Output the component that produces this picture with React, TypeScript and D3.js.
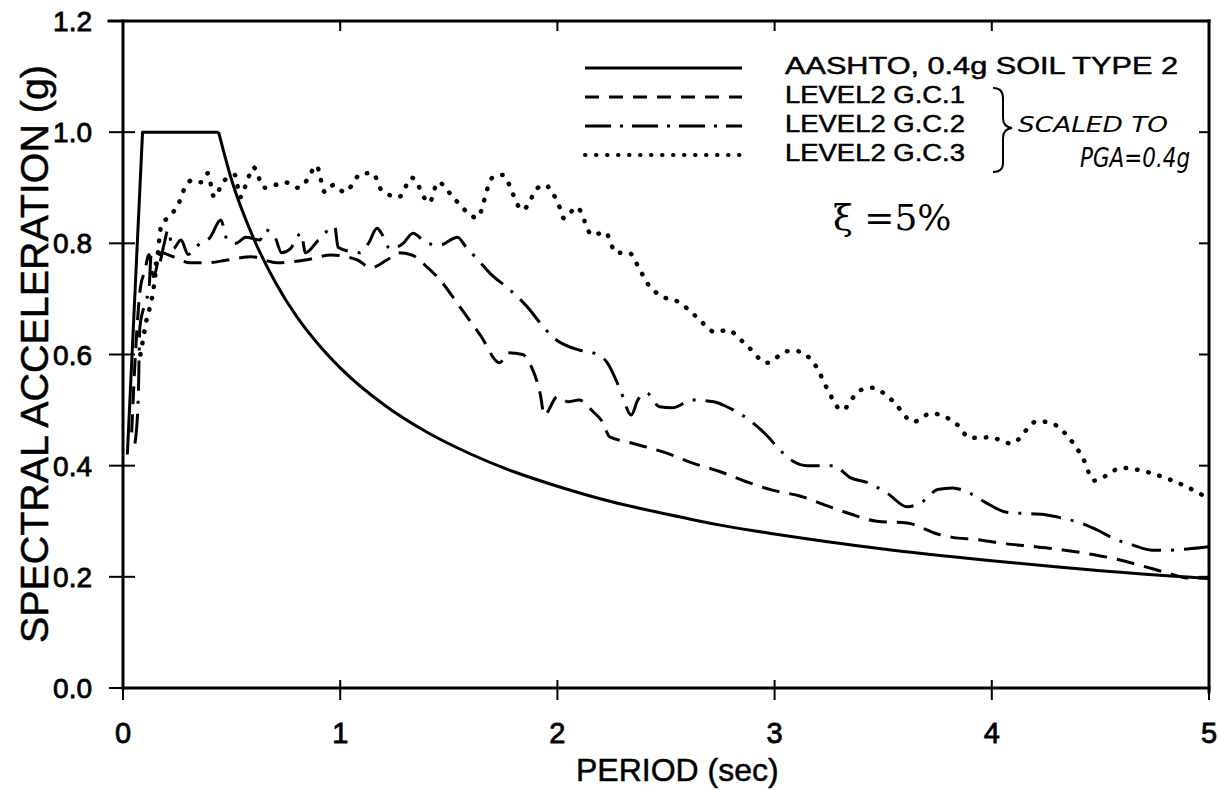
import React from "react";
import * as d3 from "d3";

// Response spectra: period (sec) vs spectral acceleration (g)
const aashtoRiseT = [0.02, 0.09, 0.44];
const aashtoRiseSa = [0.42, 1.0, 1.0];
const aashtoDecayT = [0.44, 0.5, 0.6, 0.7, 0.8, 0.9, 1.0, 1.2, 1.4, 1.6, 1.8, 2.0, 2.25, 2.5, 2.75, 3.0, 3.5, 4.0, 4.5, 5.0];
const aashtoDecaySa = [1.0, 0.914, 0.81, 0.731, 0.668, 0.618, 0.576, 0.51, 0.46, 0.421, 0.389, 0.363, 0.335, 0.313, 0.293, 0.277, 0.25, 0.229, 0.211, 0.197];

const gc1T = [0.04, 0.06, 0.08, 0.1, 0.12, 0.14, 0.175, 0.23, 0.31, 0.39, 0.48, 0.59, 0.71, 0.84, 0.96, 1.08, 1.14, 1.215, 1.27, 1.33, 1.39, 1.46, 1.55, 1.645, 1.735, 1.77, 1.84, 1.88, 1.92, 1.94, 2.0, 2.05, 2.1, 2.165, 2.21, 2.24, 2.32, 2.5, 2.62, 2.75, 2.87, 2.99, 3.12, 3.24, 3.35, 3.47, 3.61, 3.75, 3.82, 3.93, 4.05, 4.18, 4.3, 4.42, 4.56, 4.68, 4.81, 4.9, 5.0];
const gc1Sa = [0.46, 0.62, 0.72, 0.75, 0.78, 0.74, 0.783, 0.776, 0.765, 0.765, 0.77, 0.776, 0.765, 0.77, 0.779, 0.77, 0.756, 0.77, 0.783, 0.779, 0.761, 0.734, 0.686, 0.635, 0.585, 0.603, 0.6, 0.578, 0.531, 0.491, 0.524, 0.515, 0.518, 0.497, 0.477, 0.452, 0.443, 0.423, 0.405, 0.389, 0.371, 0.356, 0.345, 0.328, 0.313, 0.3, 0.297, 0.277, 0.271, 0.267, 0.26, 0.255, 0.25, 0.243, 0.233, 0.221, 0.207, 0.198, 0.198];

const gc2T = [0.055, 0.07, 0.078, 0.1, 0.12, 0.13, 0.16, 0.19, 0.207, 0.23, 0.267, 0.3, 0.355, 0.4, 0.45, 0.48, 0.52, 0.565, 0.63, 0.655, 0.7, 0.73, 0.77, 0.82, 0.84, 0.9, 0.975, 0.99, 1.05, 1.09, 1.13, 1.17, 1.19, 1.23, 1.29, 1.335, 1.4, 1.46, 1.54, 1.58, 1.635, 1.69, 1.77, 1.865, 1.92, 1.98, 2.1, 2.165, 2.23, 2.29, 2.34, 2.37, 2.41, 2.47, 2.53, 2.62, 2.72, 2.78, 2.9, 2.97, 3.02, 3.085, 3.15, 3.27, 3.35, 3.425, 3.52, 3.61, 3.68, 3.75, 3.82, 3.9, 3.97, 4.07, 4.15, 4.24, 4.33, 4.4, 4.47, 4.58, 4.65, 4.74, 4.82, 4.9, 5.0];
const gc2Sa = [0.44, 0.52, 0.65, 0.69, 0.72, 0.78, 0.757, 0.8, 0.824, 0.79, 0.806, 0.78, 0.8, 0.81, 0.842, 0.806, 0.8, 0.811, 0.806, 0.824, 0.811, 0.783, 0.79, 0.818, 0.783, 0.806, 0.83, 0.793, 0.785, 0.783, 0.8, 0.827, 0.818, 0.79, 0.8, 0.818, 0.8, 0.797, 0.811, 0.793, 0.77, 0.746, 0.72, 0.684, 0.657, 0.631, 0.608, 0.603, 0.585, 0.536, 0.491, 0.518, 0.531, 0.506, 0.504, 0.518, 0.515, 0.506, 0.477, 0.452, 0.43, 0.408, 0.4, 0.4, 0.378, 0.37, 0.35, 0.326, 0.335, 0.357, 0.36, 0.35, 0.334, 0.316, 0.314, 0.312, 0.305, 0.298, 0.287, 0.266, 0.257, 0.248, 0.248, 0.25, 0.254];

const gc3T = [0.08, 0.092, 0.106, 0.124, 0.138, 0.16, 0.175, 0.22, 0.253, 0.285, 0.32, 0.36, 0.39, 0.42, 0.46, 0.515, 0.54, 0.57, 0.6, 0.65, 0.7, 0.745, 0.806, 0.85, 0.89, 0.93, 0.97, 1.02, 1.1, 1.15, 1.19, 1.27, 1.33, 1.41, 1.45, 1.53, 1.63, 1.7, 1.745, 1.84, 1.91, 1.94, 2.01, 2.03, 2.09, 2.16, 2.22, 2.27, 2.33, 2.38, 2.42, 2.47, 2.56, 2.64, 2.73, 2.78, 2.87, 2.965, 3.06, 3.1, 3.195, 3.24, 3.31, 3.39, 3.45, 3.54, 3.64, 3.72, 3.84, 3.9, 3.99, 4.09, 4.21, 4.27, 4.36, 4.42, 4.47, 4.6, 4.7, 4.82, 4.97, 5.0];
const gc3Sa = [0.6, 0.626, 0.658, 0.686, 0.712, 0.78, 0.83, 0.851, 0.869, 0.9, 0.914, 0.91, 0.926, 0.883, 0.91, 0.923, 0.883, 0.91, 0.937, 0.9, 0.905, 0.91, 0.9, 0.915, 0.94, 0.892, 0.905, 0.892, 0.926, 0.926, 0.896, 0.883, 0.918, 0.873, 0.91, 0.878, 0.846, 0.918, 0.923, 0.86, 0.9, 0.905, 0.865, 0.845, 0.865, 0.815, 0.82, 0.783, 0.783, 0.752, 0.725, 0.707, 0.694, 0.668, 0.64, 0.644, 0.617, 0.585, 0.606, 0.606, 0.576, 0.54, 0.5, 0.535, 0.54, 0.518, 0.479, 0.494, 0.474, 0.45, 0.451, 0.44, 0.48, 0.477, 0.448, 0.413, 0.373, 0.396, 0.39, 0.375, 0.347, 0.34];

const xTicks = [0, 1, 2, 3, 4, 5];
const yTicks = [0, 0.2, 0.4, 0.6, 0.8, 1.0, 1.2];

const legendLabels = ["AASHTO, 0.4g SOIL TYPE 2", "LEVEL2 G.C.1", "LEVEL2 G.C.2", "LEVEL2 G.C.3"];
const legendDashes = ["none", "14 10", "26 9 3 9", "0.5 10.5"];

const W = 1220;
const H = 790;
const SANS = "'Liberation Sans', Arial, Helvetica, sans-serif";

export default function App() {
  const x = d3.scaleLinear().domain([0, 5]).range([123, 1209]);
  const y = d3.scaleLinear().domain([0, 1.2]).range([688, 21]);

  const pts = (t: number[], s: number[]) => t.map((v, i) => [v, s[i]] as [number, number]);
  const linear = d3.line<[number, number]>().x(d => x(d[0])).y(d => y(d[1]));
  const smooth = d3.line<[number, number]>().x(d => x(d[0])).y(d => y(d[1])).curve(d3.curveMonotoneX);

  const series = [
    { d: smooth(pts(gc1T, gc1Sa)), dash: "18 10", w: 3, cap: "butt" },
    { d: smooth(pts(gc2T, gc2Sa)), dash: "30 10 3 10", w: 3, cap: "butt" },
    { d: smooth(pts(gc3T, gc3Sa)), dash: "0.5 11", w: 4.5, cap: "round" },
  ];

  const x0 = x(0), x5 = x(5), yTop = y(1.2), yBot = y(0);
  const legX1 = 585, legX2 = 742, legTextX = 785;
  const legY = [68, 97, 126, 155];
  const legTextY = [74, 103, 132, 161];

  return (
    <div style={{ position: "absolute", left: 0, top: 0, background: "#fff" }}>
      <svg width={W} height={H} viewBox={`0 0 ${W} ${H}`} style={{ display: "block" }}>
        <rect width={W} height={H} fill="#fff" />

        {/* frame */}
        <g stroke="#000" strokeWidth={3} fill="none" strokeLinecap="square">
          <line x1={x0} y1={yTop} x2={x0} y2={yBot} />
          <line x1={x0} y1={yBot} x2={x5} y2={yBot} />
          <line x1={x0 - 14} y1={yTop} x2={x5} y2={yTop} />
          <line x1={x5} y1={yTop} x2={x5} y2={yBot + 4} />
        </g>

        {/* ticks */}
        <g stroke="#000" strokeWidth={2}>
          {yTicks.map(v => (
            <g key={"yt" + v}>
              <line x1={x0 - 14} x2={x0 + 12} y1={y(v)} y2={y(v)} />
              <line x1={x5 - 10} x2={x5} y1={y(v)} y2={y(v)} />
            </g>
          ))}
          {xTicks.map(v => (
            <g key={"xt" + v}>
              <line x1={x(v)} x2={x(v)} y1={yBot - 8} y2={yBot + 12} />
              {v > 0 && v < 5 && <line x1={x(v)} x2={x(v)} y1={yTop} y2={yTop + 10} />}
            </g>
          ))}
        </g>

        {/* tick labels */}
        <g fontFamily={SANS} fill="#000" stroke="#000" strokeWidth={0.8}>
          {yTicks.map(v => (
            <text key={"yl" + v} x={92} y={y(v) + 10} textAnchor="end" fontSize={28}>{v.toFixed(1)}</text>
          ))}
          {xTicks.map(v => (
            <text key={"xl" + v} x={x(v)} y={743} textAnchor="middle" fontSize={29}>{v}</text>
          ))}
        </g>

        {/* axis titles */}
        <text x={576} y={781} fontFamily={SANS} fontSize={32} fill="#000" stroke="#000" strokeWidth={0.5}>PERIOD (sec)</text>
        <text transform="translate(48,354) rotate(-90)" textAnchor="middle" fontFamily={SANS} fontSize={39} fill="#000" stroke="#000" strokeWidth={0.5}
          textLength={578} lengthAdjust="spacingAndGlyphs">SPECTRAL ACCELERATION (g)</text>

        {/* AASHTO design spectrum */}
        <g fill="none" stroke="#000" strokeWidth={3} strokeLinejoin="round">
          <path d={linear(pts(aashtoRiseT, aashtoRiseSa)) || ""} />
          <path d={smooth(pts(aashtoDecayT, aashtoDecaySa)) || ""} />
        </g>

        {/* Level 2 ground condition spectra */}
        <g fill="none" stroke="#000" strokeLinejoin="round">
          {series.map((s, i) => (
            <path key={"s" + i} d={s.d || ""} strokeDasharray={s.dash} strokeWidth={s.w} strokeLinecap={s.cap as any} />
          ))}
        </g>

        {/* legend */}
        <g>
          {legendLabels.map((lab, i) => (
            <g key={"lg" + i}>
              <line x1={legX1} x2={legX2} y1={legY[i]} y2={legY[i]} stroke="#000" strokeWidth={i === 3 ? 4 : 3}
                strokeDasharray={legendDashes[i] === "none" ? undefined : legendDashes[i]} strokeLinecap={i === 3 ? "round" : "butt"} />
              <text x={legTextX} y={legTextY[i]} fontFamily={SANS} fontSize={24} fill="#000" stroke="#000" strokeWidth={0.5}
                textLength={i === 0 ? 393 : 180} lengthAdjust="spacingAndGlyphs">{lab}</text>
            </g>
          ))}
        </g>

        {/* brace grouping the three Level 2 curves */}
        <path d="M 993 88 Q 1003 88 1003 98 L 1003 118 Q 1003 127 1012 128 Q 1003 129 1003 138 L 1003 163 Q 1003 172 993 172"
          fill="none" stroke="#000" strokeWidth={2} />
        <text x={1018} y={132} fontFamily="'DejaVu Sans', sans-serif" fontStyle="italic" fontSize={22} fill="#000"
          textLength={150} lengthAdjust="spacingAndGlyphs">SCALED  TO</text>
        <text x={1080} y={167} fontFamily="'DejaVu Sans', sans-serif" fontStyle="italic" fontSize={26} fill="#000"
          textLength={110} lengthAdjust="spacingAndGlyphs">PGA=0.4g</text>

        {/* damping ratio */}
        <text x={833} y={230} fontFamily="'DejaVu Serif', 'Liberation Serif', serif" fontSize={36} fill="#000">ξ =5%</text>
      </svg>
    </div>
  );
}
